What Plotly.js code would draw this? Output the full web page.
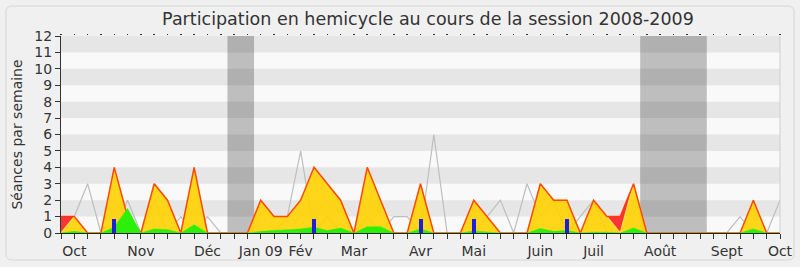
<!DOCTYPE html>
<html>
<head>
<meta charset="utf-8">
<script src="https://cdn.plot.ly/plotly-3.0.1.min.js"></script>
<style>
  html, body { margin: 0; padding: 0; background: #f0f0f0; }
  #chart { width: 800px; height: 267px; }
</style>
</head>
<body>
<div id="chart"></div>
<script>
// Weekly data, session 2008-2009 (week index 0 = start of October 2008)
const presence = [1, 1, 0, 0, 4, 1, 0, 3, 2, 0, 4, 0, 0, 0, 0, 2, 1, 1, 2, 4, 3, 2, 0, 4, 2, 0, 0, 3, 0, 0, 0, 2, 1, 0, 0, 0, 3, 2, 2, 0, 2, 1, 1, 3, 0, 0, 0, 0, 0, 0, 0, 0, 2, 0, 0];
const participation = [0, 1, 0, 0, 4, 1, 0, 3, 2, 0, 4, 0, 0, 0, 0, 2, 1, 1, 2, 4, 3, 2, 0, 4, 2, 0, 0, 3, 0, 0, 0, 2, 1, 0, 0, 0, 3, 2, 2, 0, 2, 1, 0, 3, 0, 0, 0, 0, 0, 0, 0, 0, 2, 0, 0];
const interventions = [0, 0.1, 0, 0, 0.35, 1.5, 0, 0.25, 0.2, 0, 0.5, 0, 0, 0, 0, 0.1, 0.15, 0.2, 0.25, 0.35, 0.15, 0.3, 0, 0.38, 0.38, 0, 0, 0.25, 0, 0, 0, 0.12, 0.05, 0, 0, 0, 0.27, 0.1, 0.15, 0, 0.05, 0.05, 0, 0.3, 0, 0, 0, 0, 0, 0, 0, 0, 0.25, 0, 0];
const mediane = [1, 1, 3, 0, 0, 2, 0, 2, 0, 1, 0, 1, 0, 0, 0, 0, 0, 1, 5, 0, 1, 0, 0, 1, 0, 1, 1, 0, 6, 0, 0, 0, 1, 2, 0, 3, 1, 2, 0, 1, 2, 0, 0, 0, 0, 0, 0, 0, 0, 0, 0, 1, 0, 0, 2];
const questionWeeks = [4, 19, 27, 31, 38];
const questionValues = [0.87, 0.87, 0.87, 0.87, 0.87];
const monthWeeks = [1, 6, 11, 15, 18, 22, 27, 31, 36, 40, 45, 50, 54];
const monthLabels = ['Oct', 'Nov', 'Déc', 'Jan 09', 'Fév', 'Mar', 'Avr', 'Mai', 'Juin', 'Juil', 'Août', 'Sept', 'Oct'];
const vacations = [[12.5, 14.5], [43.5, 48.5]];

const weeks = presence.map((_, i) => i);
const tickText = weeks.map(w => {
  const k = monthWeeks.indexOf(w);
  return k >= 0 ? monthLabels[k] : '';
});

const traces = [
  { x: weeks, y: mediane, type: 'scatter', mode: 'lines',
    line: { color: 'rgb(190,190,190)', width: 1.2 }, hoverinfo: 'skip', showlegend: false },
  { x: weeks, y: participation, type: 'scatter', mode: 'lines', fill: 'tozeroy',
    fillcolor: 'rgba(255,210,0,0.9)', line: { color: 'rgb(255,228,70)', width: 1.2 },
    hoverinfo: 'skip', showlegend: false },
  { x: weeks, y: presence, type: 'scatter', mode: 'lines', fill: 'tonexty',
    fillcolor: 'rgba(255,35,35,0.92)', line: { color: 'rgba(255,45,0,0.85)', width: 1.5 },
    hoverinfo: 'skip', showlegend: false },
  { x: weeks, y: interventions, type: 'scatter', mode: 'lines', fill: 'tozeroy',
    fillcolor: 'rgb(45,240,10)', line: { color: 'rgb(45,240,10)', width: 0.5 },
    hoverinfo: 'skip', showlegend: false },
  { x: questionWeeks, y: questionValues, type: 'bar', width: 0.3, xaxis: 'x2', yaxis: 'y',
    marker: { color: 'rgb(30,30,220)', line: { width: 0 } }, hoverinfo: 'skip', showlegend: false }
];

const shapes = [];
for (let k = 1; k < 12; k += 2) {
  shapes.push({ type: 'rect', layer: 'below', xref: 'paper', yref: 'y', x0: 0, x1: 1, y0: k, y1: k + 1,
    fillcolor: '#e6e6e6', line: { width: 0 } });
}
vacations.forEach(v => {
  shapes.push({ type: 'rect', layer: 'below', xref: 'x', yref: 'paper', x0: v[0], x1: v[1], y0: 0, y1: 1,
    fillcolor: 'rgba(0,0,0,0.235)', line: { width: 0 } });
});
shapes.push({ type: 'line', xref: 'paper', yref: 'paper', x0: 1, x1: 1, y0: 0, y1: 1,
  line: { color: '#cfcfcf', width: 1 } });
// rounded frame
(function () {
  const x0 = -0.0765, x1 = 1.0195, y0 = -0.137, y1 = 1.152, rx = 0.0083, ry = 0.03;
  const p = `M ${x0 + rx},${y1} L ${x1 - rx},${y1} Q ${x1},${y1} ${x1},${y1 - ry} L ${x1},${y0 + ry} ` +
    `Q ${x1},${y0} ${x1 - rx},${y0} L ${x0 + rx},${y0} Q ${x0},${y0} ${x0},${y0 + ry} L ${x0},${y1 - ry} ` +
    `Q ${x0},${y1} ${x0 + rx},${y1} Z`;
  shapes.push({ type: 'path', xref: 'paper', yref: 'paper', path: p, layer: 'below',
    line: { color: '#d6d6d6', width: 1 } });
})();

const font = 'DejaVu Sans, Verdana, sans-serif';
const layout = {
  width: 800, height: 267,
  margin: { l: 61, r: 20, t: 36, b: 34 },
  paper_bgcolor: '#f0f0f0',
  plot_bgcolor: '#f9f9f9',
  font: { family: font, size: 14, color: '#333' },
  title: { text: 'Participation en hemicycle au cours de la session 2008-2009',
    font: { family: font, size: 17.5, color: '#333' },
    x: 0.535, xref: 'container', xanchor: 'center', y: 0.93, yref: 'container', yanchor: 'middle' },
  xaxis: { range: [0, 54], tickmode: 'array', tickvals: weeks, ticktext: tickText,
    ticks: 'outside', ticklen: 5, tickcolor: '#333', tickwidth: 1,
    showline: true, linecolor: '#222', linewidth: 1, showgrid: false, zeroline: false,
    tickfont: { family: font, size: 14, color: '#333' }, fixedrange: true },
  xaxis2: { overlaying: 'x', side: 'top', anchor: 'y', range: [0, 54], tickmode: 'array', tickvals: weeks,
    showticklabels: false, ticks: 'outside', ticklen: 1.5, tickwidth: 1.5, tickcolor: '#333',
    showline: false, showgrid: false, zeroline: false, fixedrange: true },
  yaxis: { range: [0, 12], dtick: 1, tick0: 0, ticks: 'outside', ticklen: 5, tickcolor: '#333',
    showline: true, linecolor: '#333', linewidth: 1, showgrid: false, zeroline: false,
    tickfont: { family: font, size: 14, color: '#333' }, fixedrange: true,
    title: { text: 'Séances par semaine', font: { family: font, size: 14, color: '#333' }, standoff: 8 } },
  shapes: shapes,
  bargap: 0,
  showlegend: false
};

Plotly.newPlot('chart', traces, layout, { staticPlot: true, displayModeBar: false });
</script>
</body>
</html>
